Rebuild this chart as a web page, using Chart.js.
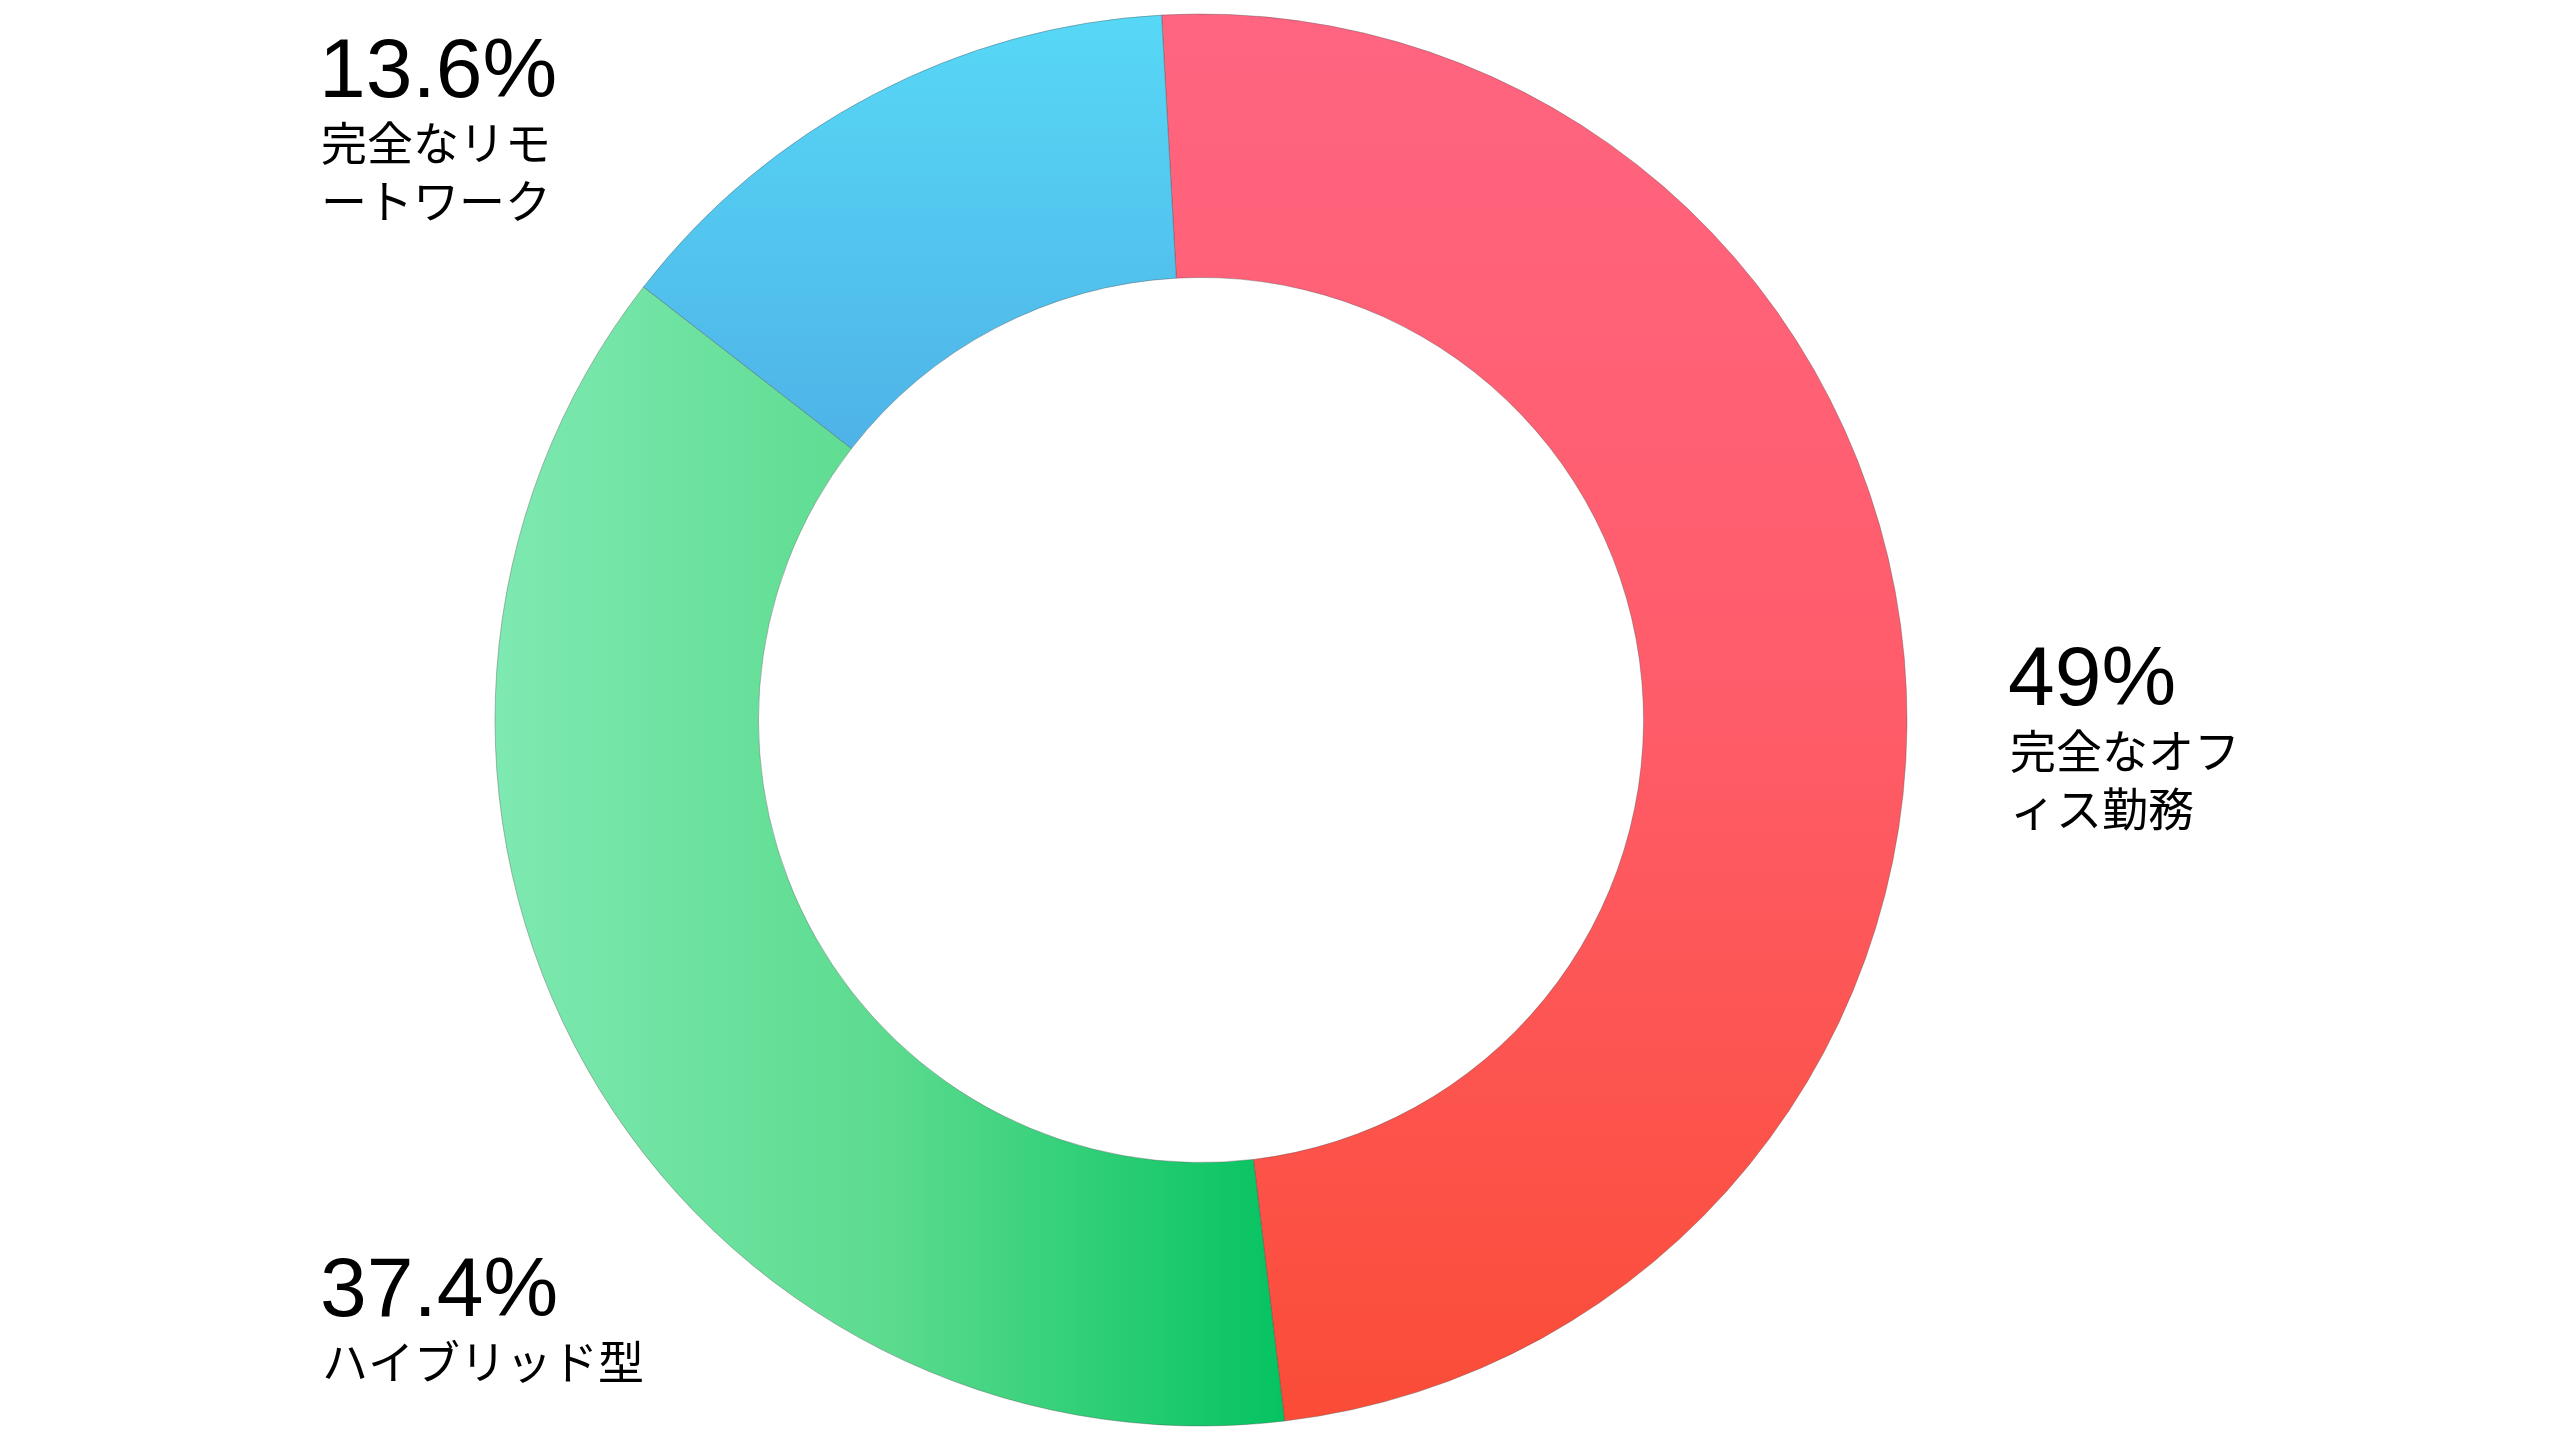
<!DOCTYPE html>
<html lang="ja">
<head>
<meta charset="utf-8">
<script src="https://cdn.jsdelivr.net/npm/chart.js@4/dist/chart.umd.min.js"></script>
<style>
  html, body { margin: 0; padding: 0; background: #fff; }
  #wrap { width: 2560px; height: 1440px; position: relative; }
</style>
</head>
<body>
<div id="wrap"><canvas id="donut"></canvas></div>
<script>
// data
const categories = [['完全なオフ', 'ィス勤務'], ['ハイブリッド型'], ['完全なリモ', 'ートワーク']];
const shares = [49, 37.4, 13.6];
const shareLabels = ['49%', '37.4%', '13.6%'];

// label placement (x, baseline of the percentage)
const labelPos = [[2008, 705], [320, 1316], [319, 97]];

function sliceFill(ctx) {
    const chart = ctx.chart;
    const area = chart.chartArea;
    if (!area) return '#ccc';
    const c = chart.ctx;
    const cx = (area.left + area.right) / 2;
    const cy = (area.top + area.bottom) / 2;
    const R = 706;
    let g;
    if (ctx.dataIndex === 0) {
        g = c.createLinearGradient(0, cy - R, 0, cy + R);
        g.addColorStop(0, '#ff6581');
        g.addColorStop(0.5, '#ff5c69');
        g.addColorStop(1, '#fa4c36');
    } else if (ctx.dataIndex === 1) {
        g = c.createLinearGradient(cx - R, 0, cx + 80, 0);
        g.addColorStop(0, '#7ee9b1');
        g.addColorStop(0.5, '#5cdb8f');
        g.addColorStop(1, '#06c361');
    } else {
        g = c.createLinearGradient(0, cy - R, 0, cy - 260);
        g.addColorStop(0, '#57d8f6');
        g.addColorStop(1, '#4eb2e7');
    }
    return g;
}

const labelPlugin = {
    id: 'sideLabels',
    afterDraw(chart) {
        const c = chart.ctx;
        c.save();
        c.fillStyle = '#000';
        c.textAlign = 'left';
        shareLabels.forEach((txt, i) => {
            const [x, y] = labelPos[i];
            c.font = '400 84px "Liberation Sans", Arial, sans-serif';
            c.textBaseline = 'alphabetic';
            c.fillText(txt, x, y);
            c.font = '400 46px "Noto Sans CJK JP", sans-serif';
            c.textBaseline = 'middle';
            categories[i].forEach((line, j) => {
                c.fillText(line, x + 2, y + 46 + j * 58);
            });
        });
        c.restore();
    }
};

new Chart(document.getElementById('donut'), {
    type: 'doughnut',
    data: {
        labels: categories,
        datasets: [{
            data: shares,
            backgroundColor: sliceFill,
            borderColor: 'rgba(70,70,70,0.35)',
            borderWidth: 1
        }]
    },
    options: {
        responsive: true,
        maintainAspectRatio: false,
        devicePixelRatio: 1,
        animation: false,
        rotation: -3.2,
        radius: 706,
        cutout: 451,
        layout: { padding: { left: 0, right: 158, top: 0, bottom: 0 } },
        plugins: {
            legend: { display: false },
            tooltip: { enabled: false }
        }
    },
    plugins: [labelPlugin]
});
</script>
</body>
</html>
